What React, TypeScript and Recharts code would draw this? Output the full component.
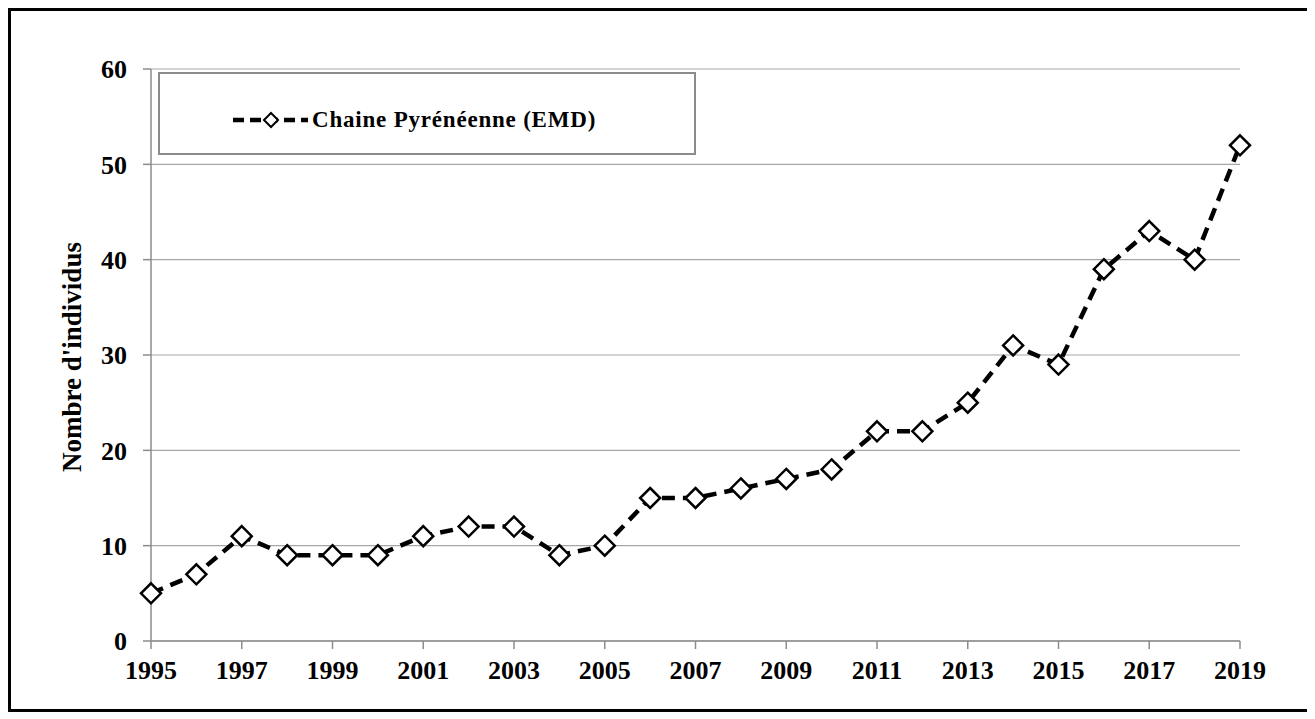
import { CartesianGrid, Legend, Line, LineChart, XAxis, YAxis } from 'recharts';

const years = [
    '1995', '1996', '1997', '1998', '1999', '2000', '2001', '2002', '2003',
    '2004', '2005', '2006', '2007', '2008', '2009', '2010', '2011', '2012',
    '2013', '2014', '2015', '2016', '2017', '2018', '2019',
];
const individus = [
    5, 7, 11, 9, 9, 9, 11, 12, 12, 9, 10, 15, 15, 16, 17, 18, 22, 22, 25, 31, 29, 39, 43, 40, 52,
];
const yTicks = [0, 10, 20, 30, 40, 50, 60];
const seriesName = 'Chaine Pyrénéenne (EMD)';
const yLabel = "Nombre d'individus";

const data = years.map((year, i) => ({ year, value: individus[i] }));

const font = 'Liberation Serif, Times New Roman, serif';

// losange blanc bordé de noir
const Diamond = (props: any) => {
    const { cx, cy } = props;
    if (cx == null || cy == null) return null;
    const r = 10;
    return (
        <polygon
            points={`${cx},${cy - r} ${cx + r},${cy} ${cx},${cy + r} ${cx - r},${cy}`}
            fill="#fff"
            stroke="#000"
            strokeWidth={2.5}
        />
    );
};

const LegendBox = () => (
    <svg width={534} height={79}>
        <line x1={73} y1={46} x2={148} y2={46} stroke="#000" strokeWidth={4.5} strokeDasharray="11 6" />
        <polygon points="111,39 118,46 111,53 104,46" fill="#fff" stroke="#000" strokeWidth={2} />
        <text
            x={152}
            y={53}
            fontFamily={font}
            fontWeight="bold"
            fontSize={23}
            letterSpacing={0.8}
            fill="#000"
        >
            {seriesName}
        </text>
    </svg>
);

const YLabel = (props: any) => {
    const { viewBox } = props;
    const cy = viewBox.y + viewBox.height / 2 + 2;
    const cx = 61;
    return (
        <text
            x={cx}
            y={cy}
            transform={`rotate(-90, ${cx}, ${cy})`}
            textAnchor="middle"
            dominantBaseline="central"
            fontFamily={font}
            fontWeight="bold"
            fontSize={27}
            fill="#000"
        >
            {yLabel}
        </text>
    );
};

const App = () => {
    return (
        <div
            style={{
                position: 'relative',
                width: 1304,
                height: 704,
                border: '3px solid #000',
                boxSizing: 'border-box',
                background: '#fff',
            }}
        >
            <LineChart
                width={1298}
                height={698}
                data={data}
                margin={{ top: 58, right: 69, left: 80, bottom: 20 }}
            >
                <CartesianGrid horizontal vertical={false} stroke="#a6a6a6" strokeWidth={1.2} />
                <XAxis
                    dataKey="year"
                    interval={1}
                    height={48}
                    stroke="#8c8c8c"
                    strokeWidth={1.5}
                    tickSize={8}
                    tickMargin={12}
                    tick={{ fill: '#000', fontFamily: font, fontWeight: 'bold', fontSize: 26 }}
                />
                <YAxis
                    domain={[0, 60]}
                    ticks={yTicks}
                    width={60}
                    stroke="#8c8c8c"
                    strokeWidth={1.5}
                    tickSize={8}
                    tickMargin={16}
                    tick={{ fill: '#000', fontFamily: font, fontWeight: 'bold', fontSize: 26 }}
                    label={<YLabel />}
                />
                <Legend
                    layout="horizontal"
                    verticalAlign="middle"
                    content={<LegendBox />}
                    wrapperStyle={{
                        left: 147,
                        top: 61,
                        width: 538,
                        height: 83,
                        border: '2px solid #8c8c8c',
                        boxSizing: 'border-box',
                        background: '#fff',
                        lineHeight: 0,
                    }}
                />
                <Line
                    type="linear"
                    dataKey="value"
                    name={seriesName}
                    stroke="#000"
                    strokeWidth={4.5}
                    strokeDasharray="13 8"
                    dot={<Diamond />}
                    activeDot={false}
                    isAnimationActive={false}
                />
            </LineChart>
        </div>
    );
};

export default App;
